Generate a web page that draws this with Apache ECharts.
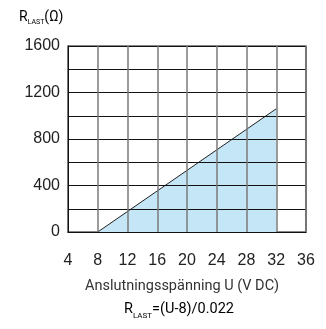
<!DOCTYPE html>
<html>
<head>
<meta charset="utf-8">
<script src="https://cdn.jsdelivr.net/npm/echarts@6/dist/echarts.min.js"></script>
<style>
  html, body { margin: 0; padding: 0; background: #fff; }
  #chart { width: 326px; height: 329px; }
</style>
</head>
<body>
<div id="chart"></div>
<script>
// spänning U (V DC) och R_LAST
var voltage = [8, 32];
var resistance = [0, 1060];
var xTicks = [4, 8, 12, 16, 20, 24, 28, 32, 36];
var yTicks = [0, 400, 800, 1200, 1600];

var chart = echarts.init(document.getElementById('chart'));

var points = voltage.map(function (u, i) { return [u, resistance[i]]; });

var option = {
    animation: false,
    grid: {
        left: 68,
        right: 20,
        top: 46,
        bottom: 97,
        show: true,
        borderColor: '#111',
        borderWidth: 1.2
    },
    xAxis: {
        type: 'value',
        min: xTicks[0],
        max: xTicks[xTicks.length - 1],
        interval: 4,
        z: 5,
        axisLine: { lineStyle: { color: '#111' } },
        axisTick: { show: false },
        axisLabel: {
            color: '#222',
            fontFamily: 'Liberation Sans',
            fontSize: 16,
            margin: 21
        },
        splitLine: { lineStyle: { color: '#7a7a7a', width: 1.5 } }
    },
    yAxis: {
        type: 'value',
        min: 0,
        max: yTicks[yTicks.length - 1],
        interval: 200,
        z: 5,
        axisLine: { show: true, lineStyle: { color: '#111' } },
        axisTick: { show: false },
        axisLabel: {
            color: '#222',
            fontFamily: 'Liberation Sans',
            fontSize: 16,
            margin: 8,
            formatter: function (v) {
                return yTicks.indexOf(v) >= 0 ? String(v) : '';
            }
        },
        splitLine: { lineStyle: { color: '#111', width: 1 } }
    },
    graphic: [
        {
            type: 'text',
            left: 19,
            top: 10,
            style: {
                text: '{r|R}{s|LAST}{r|(Ω)}',
                rich: {
                    r: { fontFamily: 'Roboto', fontSize: 14, color: '#222', lineHeight: 18, verticalAlign: 'bottom' },
                    s: { fontFamily: 'Roboto', fontSize: 7, color: '#222', lineHeight: 18, verticalAlign: 'bottom', padding: [0, 0, -2, 0] }
                }
            }
        },
        {
            type: 'text',
            left: 85,
            top: 279,
            style: {
                text: 'Anslutningsspänning U (V DC)',
                fontFamily: 'Roboto',
                fontSize: 14.5,
                fill: '#333'
            }
        },
        {
            type: 'text',
            left: 124,
            top: 302,
            style: {
                text: '{r|R}{s|LAST}{r|=(U-8)/0.022}',
                rich: {
                    r: { fontFamily: 'Roboto', fontSize: 14.5, color: '#333', lineHeight: 20, verticalAlign: 'bottom' },
                    s: { fontFamily: 'Roboto', fontSize: 8, color: '#333', lineHeight: 20, verticalAlign: 'bottom', padding: [0, 0, -3, 0] }
                }
            }
        }
    ],
    series: [{
        type: 'line',
        data: points,
        symbol: 'none',
        lineStyle: { color: '#222', width: 1 },
        areaStyle: { color: '#c5e6f6', opacity: 1 },
        z: 1
    }]
};

chart.setOption(option);
</script>
</body>
</html>
